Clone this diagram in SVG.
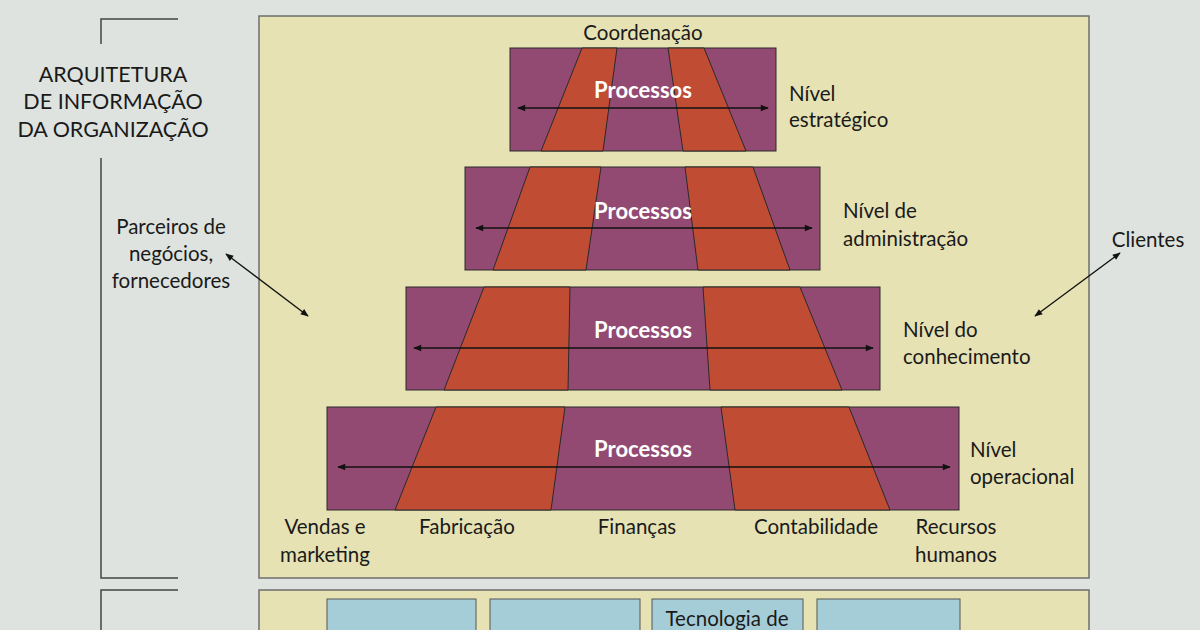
<svg xmlns="http://www.w3.org/2000/svg" width="1200" height="630" viewBox="0 0 1200 630">
<style>
.t{font-family:Lato,"Open Sans","Liberation Sans",sans-serif;font-size:20.5px;fill:#1a1a1a}
.h{font-family:Lato,"Open Sans","Liberation Sans",sans-serif;font-size:21.5px;fill:#1a1a1a;text-anchor:middle}
.p{font-family:Lato,"Open Sans","Liberation Sans",sans-serif;font-size:22px;font-weight:bold;fill:#ffffff;text-anchor:middle}
.c{text-anchor:middle}
.pu{fill:#934a72;stroke:#2a2a2a;stroke-width:1}
.or{fill:#c04c34;stroke:#2a2a2a;stroke-width:1}
.ar{stroke:#111;stroke-width:1.3;fill:none;marker-start:url(#ah);marker-end:url(#ah)}
.panel{fill:#e6e2b4;stroke:#6e6e6e;stroke-width:1.5}
.br{stroke:#444;stroke-width:1.5;fill:none}
.bl{fill:#a5cdd8;stroke:#555;stroke-width:1}
</style>
<defs>
<marker id="ah" viewBox="0 0 10 10" refX="9" refY="5" markerWidth="10" markerHeight="8" markerUnits="userSpaceOnUse" orient="auto-start-reverse">
<path d="M0,1 L10,5 L0,9 Z" fill="#111"/>
</marker>
</defs>
<rect x="0" y="0" width="1200" height="630" fill="#dee3df"/>
<g id="brackets">
<path class="br" d="M178,19 H101 V44"/>
<path class="br" d="M101,158 V578 H178"/>
<path class="br" d="M178,590 H101 V630"/>
</g>
<g id="title">
<text class="h" x="113" y="82">ARQUITETURA</text>
<text class="h" x="113" y="109">DE INFORMAÇÃO</text>
<text class="h" x="113" y="137">DA ORGANIZAÇÃO</text>
</g>
<rect id="panel-top" class="panel" x="259" y="16" width="830" height="562"/>
<rect id="panel-bottom" class="panel" x="259" y="590" width="830" height="50"/>
<g id="level1">
<rect class="pu" x="510" y="48" width="266" height="103"/>
<polygon class="or" points="582,48 617,48 603,151 541,151"/>
<polygon class="or" points="668,48 704,48 746,151 683,151"/>
<text class="p" x="643" y="98">Processos</text>
<text class="t c" x="643" y="40">Coordenação</text>
<text class="t" x="789" y="101">Nível</text>
<text class="t" x="789" y="127">estratégico</text>
</g>
<g id="level2">
<rect class="pu" x="465" y="167" width="355" height="103"/>
<polygon class="or" points="530,167 601,167 586,270 493,270"/>
<polygon class="or" points="685,167 753,167 790,270 698,270"/>
<text class="p" x="643" y="219">Processos</text>
<text class="t" x="843" y="218">Nível de</text>
<text class="t" x="843" y="246">administração</text>
</g>
<g id="level3">
<rect class="pu" x="406" y="287" width="474" height="103"/>
<polygon class="or" points="484,287 570,287 568,390 444,390"/>
<polygon class="or" points="703,287 800,287 842,390 710,390"/>
<text class="p" x="643" y="338">Processos</text>
<text class="t" x="903" y="337">Nível do</text>
<text class="t" x="903" y="364">conhecimento</text>
</g>
<g id="level4">
<rect class="pu" x="327" y="407" width="632" height="103"/>
<polygon class="or" points="436,407 565,407 551,510 395,510"/>
<polygon class="or" points="721,407 849,407 890,510 735,510"/>
<text class="p" x="643" y="457">Processos</text>
<text class="t" x="970" y="457">Nível</text>
<text class="t" x="970" y="484">operacional</text>
</g>
<g id="functions">
<text class="t c" x="325" y="534">Vendas e</text>
<text class="t c" x="325" y="562">marketing</text>
<text class="t c" x="467" y="534">Fabricação</text>
<text class="t c" x="637" y="534">Finanças</text>
<text class="t c" x="816" y="534">Contabilidade</text>
<text class="t c" x="956" y="534">Recursos</text>
<text class="t c" x="956" y="562">humanos</text>
</g>
<g id="partners">
<text class="t c" x="171" y="234">Parceiros de</text>
<text class="t c" x="171" y="261">negócios,</text>
<text class="t c" x="171" y="288">fornecedores</text>
</g>
<g id="clients">
<text class="t c" x="1148" y="247">Clientes</text>
</g>
<g id="connectors">
<line class="ar" x1="518" y1="108" x2="768" y2="108"/>
<line class="ar" x1="476" y1="228" x2="812" y2="228"/>
<line class="ar" x1="414" y1="348" x2="873" y2="348"/>
<line class="ar" x1="338" y1="467" x2="950" y2="467"/>
<line class="ar" x1="226" y1="254" x2="308" y2="316"/>
<line class="ar" x1="1120" y1="253" x2="1035" y2="316"/>
</g>
<g id="tech">
<rect class="bl" x="327" y="599" width="149" height="40"/>
<rect class="bl" x="490" y="599" width="150" height="40"/>
<rect class="bl" x="652" y="599" width="151" height="40"/>
<rect class="bl" x="817" y="599" width="143" height="40"/>
<text class="t c" x="727" y="626">Tecnologia de</text>
</g>
</svg>
